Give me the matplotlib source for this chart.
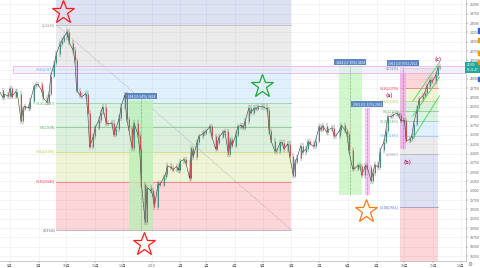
import numpy as np
import pandas as pd
import matplotlib
matplotlib.use("Agg")
import matplotlib.pyplot as plt
import matplotlib.dates as mdates
from matplotlib.patches import Rectangle

plt.rcParams['font.family'] = ['Noto Sans CJK JP', 'DejaVu Sans']

# closes, one value every 2 business days from 2018-07-20
closes = [
    22700, 22510, 22590, 22540,
    22750, 22520, 22660, 22600, 21860, 22200, 22270, 22220, 22410, 22800, 22850, 22860,
    22700, 22490, 22370, 22600, 23090, 23420, 23670, 23940, 24030, 24120,
    24270, 23975, 23780, 23500, 22690, 22550, 22530, 22610, 22090, 21180, 21460,
    21690, 21900, 22090, 22250, 21810, 21800, 21820, 21510, 21650, 21950, 22260,
    22570, 21920, 21680, 21150, 21820, 21510, 21120, 20170, 19160, 20080, 20010,
    19900, 19560, 20200, 20160, 20360, 20440, 20670, 20620, 20570, 20650, 20560,
    20790, 20840, 20750, 20330, 21140, 20900, 21300, 21460, 21530, 21560,
    21600, 21730, 21460, 21130, 21290, 21450, 21570, 21600, 20980, 21380, 21210,
    21510, 21720, 21760, 21690, 21870, 22220, 22090, 22220, 22200, 22260, 22250,
    22250, 22180, 21600, 21340, 21070, 21060, 21300, 21280, 21120, 21260, 20940,
    20410, 20780, 20880, 21200, 21030, 21120, 21330, 21260, 21190, 21340,
    21730, 21640, 21750, 21570, 21640, 21690, 21470, 21470, 21620, 21760, 21620, 21520,
    21090, 20590, 20590, 20680, 20660, 20420, 20680, 20630, 20260, 20480, 20700,
    20630, 21090, 21320, 21600, 21990, 22000, 22040, 22080, 22020, 21880,
    21890, 21340, 21380, 21460, 21800, 22210, 22450, 22550, 22620, 22800, 22970, 22930,
    23100, 23300, 23330,
]
dates = pd.bdate_range('2018-07-20', periods=len(closes), freq='2B')

month_ticks = ['2018-08-01', '2018-09-01', '2018-10-01', '2018-11-01', '2018-12-01', '2019-01-01',
               '2019-02-01', '2019-03-01', '2019-04-01', '2019-05-01', '2019-06-01', '2019-07-01',
               '2019-08-01', '2019-09-01', '2019-10-01', '2019-11-01', '2019-12-01']
month_labels = ['8月', '9月', '10月', '11月', '12月', '2019', '2月', '3月', '4月', '5月', '6月',
                '7月', '8月', '9月', '10月', '11月', '12月']

# fibonacci retracements
fib_levels = [0, 0.236, 0.382, 0.5, 0.618, 0.786, 1, 1.618, 2.618]
fib_colors = ['#787b86', '#f23645', '#b6cc3a', '#4caf50', '#5cbf7a', '#64b5f6', '#9e9e9e', '#5c6bc0', '#f23645']
fib1_high, fib1_low = 24448, 18948
fib1_start, fib1_end = '2018-09-20', '2019-06-01'
fib2_top, fib2_base = 23295, 20987
fib2_start, fib2_end = '2019-09-26', '2019-11-06'

# price range measurements
ranges = [
    ('2018-12-08', '2019-01-02', 22436, 18948, '#b9f0b4', '3434 (15.34%) 3434'),
    ('2019-07-22', '2019-08-16', 23348, 19887, '#c4f5bc', '3434 (17.30%) 3434'),
    ('2019-08-19', '2019-08-25', 22221, 19887, '#f5b8ee', '2062 (11.32%) 2062'),
    ('2019-09-26', '2019-10-03', 23321, 21121, '#f0a8e8', '2062 (10.75%) 2062'),
]
last_price = 23309

fig = plt.figure(figsize=(4.8, 2.68), dpi=100)
ax = fig.add_axes([0, 7 / 268, 466 / 480, 261 / 268])
x0 = mdates.date2num(pd.Timestamp('2018-07-21 04:00'))
x1 = mdates.date2num(pd.Timestamp('2019-12-06 14:00'))
ax.set_xlim(x0, x1)
ax.set_ylim(18116, 25119)

yt = np.arange(18250, 25001, 250)
ax.set_yticks(yt)
# the 23250 label sits under the last-price tag
ax.set_yticklabels(['' if abs(v - last_price) < 150 else str(v) for v in yt])
ax.yaxis.tick_right()
ax.tick_params(axis='y', labelsize=2.6, length=1.5, pad=1, colors='#666666', width=0.3)
xt = [mdates.date2num(pd.Timestamp(d)) for d in month_ticks]
ax.set_xticks(xt)
ax.set_xticklabels(month_labels)
ax.tick_params(axis='x', labelsize=2.6, length=1.5, pad=0.5, colors='#666666', width=0.3)
ax.grid(True, color='#eef0f4', lw=0.5)
ax.set_axisbelow(True)
for s in ['top', 'left']:
    ax.spines[s].set_visible(False)
for s in ['right', 'bottom']:
    ax.spines[s].set_color('#b2b5be')
    ax.spines[s].set_linewidth(0.5)


def fib_box(xa, xb, p0, p1, levels):
    xa = mdates.date2num(pd.Timestamp(xa))
    xb = mdates.date2num(pd.Timestamp(xb))
    prices = [p0 + (p1 - p0) * l for l in levels]
    for i in range(1, len(levels)):
        ax.fill_between([xa, xb], prices[i - 1], prices[i], color=fib_colors[fib_levels.index(levels[i])],
                        alpha=0.2, lw=0, zorder=1)
    for l, p in zip(levels, prices):
        c = fib_colors[fib_levels.index(l)]
        if ax.get_ylim()[0] < p < ax.get_ylim()[1]:
            ax.plot([xa, xb], [p, p], color=c, lw=0.5, alpha=0.7, zorder=2)
            ax.text(xa - 1, p, '%g(%d)' % (l, round(p)), color=c, fontsize=2.3, ha='right',
                    va='center', zorder=5)
    return xa, xb


# left fib (high -> low)
xa, xb = fib_box(fib1_start, fib1_end, fib1_low, fib1_high, [0, 0.236, 0.382, 0.5, 0.618, 0.786, 1, 1.618])
ax.plot([xa, xb], [fib1_high, fib1_low], color='#9598a1', lw=0.5, ls=(0, (1, 1.5)), zorder=2)
# right fib (top -> base)
fib_box(fib2_start, fib2_end, fib2_top, fib2_base, fib_levels)

# magenta horizontal zone
za = mdates.date2num(pd.Timestamp('2018-08-04'))
ax.add_patch(Rectangle((za, 23152), x1 - za + 5, 196, facecolor='#e6eefa', alpha=0.6,
                       edgecolor='#e86cf5', lw=0.5, zorder=3))

# range measurement boxes
for a, b, top, bot, col, lab in ranges:
    ra = mdates.date2num(pd.Timestamp(a))
    rb = mdates.date2num(pd.Timestamp(b))
    ax.add_patch(Rectangle((ra, bot), rb - ra, top - bot, facecolor=col, alpha=0.75, lw=0, zorder=2))
    xm = (ra + rb) / 2
    ax.plot([xm, xm], [bot, top], color='#555555', lw=0.4, ls=(0, (1, 1.5)), zorder=4)
    ax.text(xm, top + 110, lab, fontsize=2.3, color='white', ha='center', va='center', zorder=6,
            bbox=dict(boxstyle='square,pad=0.4', fc='#5d87c4', ec='none'))

# candles (open = previous close)
xd = mdates.date2num(dates)
for i in range(1, len(closes)):
    o, c = closes[i - 1], closes[i]
    col = '#3f8f84' if c >= o else '#c9504c'
    ax.plot([xd[i], xd[i]], [min(o, c) - 70, max(o, c) + 70], color='#4a4a4a', lw=0.3, zorder=7)
    ax.plot([xd[i], xd[i]], [o, c], color=col, lw=0.75, zorder=8, solid_capstyle='butt')
ax.plot(xd, closes, color='#3a3a3a', lw=0.4, zorder=7)

# channel lines
ch_x = ['2019-10-10', '2019-11-08']
ch_top = [22400, 23450]
ch_mid = [22000, 23050]
ch_low = [21400, 22550]
cx = [mdates.date2num(pd.Timestamp(d)) for d in ch_x]
for ys in (ch_top, ch_mid, ch_low):
    ax.plot(cx, ys, color='#3ddc4a', lw=0.6, zorder=9)

# wave labels
waves = [('(a)', '2019-09-15', 22560), ('(b)', '2019-10-04', 20770), ('(c)', '2019-11-06', 23520)]
for t, d, p in waves:
    ax.text(mdates.date2num(pd.Timestamp(d)), p, t, color='#c2185b', fontsize=4, fontweight='bold',
            ha='center', va='center', zorder=10)

# stars
stars = [('2018-09-27', 24800, '#ff1a1a'), ('2018-12-24', 18570, '#ff1a1a'),
         ('2019-04-30', 22800, '#1fa83a'), ('2019-08-21', 19450, '#ff7a1a')]
for d, p, col in stars:
    ax.plot(mdates.date2num(pd.Timestamp(d)), p, marker='*', ms=17, mfc='none', mec=col, mew=0.9,
            zorder=10)

# last price tag
ax.text(1.0 + 1 / 466, last_price, '%d\n05:21:47' % last_price, transform=ax.get_yaxis_transform(),
        fontsize=2.2, color='white', ha='left', va='center', zorder=11, clip_on=False,
        bbox=dict(boxstyle='square,pad=0.5', fc='#26a69a', ec='none'))

# alert marks on the price scale
alerts = [(24300, '#2962ff'), (24050, '#ff9800'), (23700, '#ff9800'), (23450, '#ff9800'), (23000, '#2962ff')]
for p, col in alerts:
    ax.add_patch(Rectangle((1.0 + 12 / 466, p - 60), 2 / 466, 120, transform=ax.get_yaxis_transform(),
                           color=col, clip_on=False, zorder=11))

fig.text(470 / 480, 3 / 268, '⚙', fontsize=4, color='#666666', ha='center', va='center',
         family='DejaVu Sans')

fig.savefig('out.png', dpi=100)
